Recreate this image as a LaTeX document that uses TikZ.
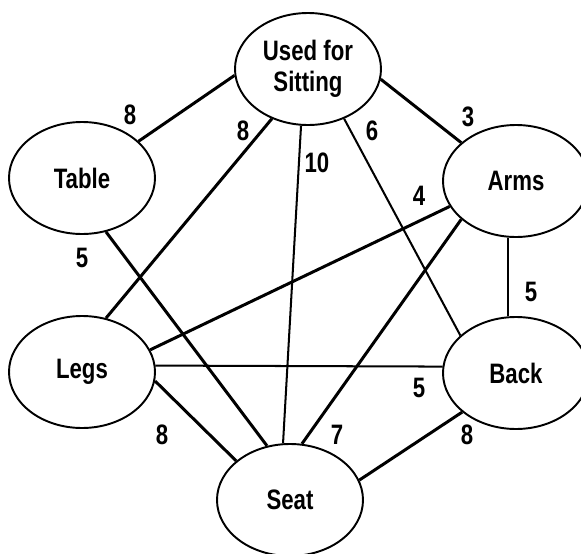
\documentclass[tikz,border=0pt]{standalone}
\usepackage{fontspec}
\setmainfont[FakeStretch=0.79]{Liberation Sans}
\usetikzlibrary{shapes.geometric}

\tikzset{
	concept/.style={ellipse, draw, line width=1.1pt, inner sep=0pt,
		minimum width=2.92cm, minimum height=2.24cm, align=center,
		font=\fontsize{16}{17.6}\selectfont\bfseries},
	link/.style={line width=1.7pt},
	thinlink/.style={line width=1.15pt},
	weight/.style={font=\fontsize{16}{17.6}\selectfont\bfseries}
}

\begin{document}
\begin{tikzpicture}
\useasboundingbox (0,0) rectangle (11.62,-11.08);

\node [concept] (sit)  at (6.16,-1.38)  {Used for\\Sitting};
\node [concept] (tab)  at (1.64,-3.56)  {Table};
\node [concept] (arm)  at (10.32,-3.62) {Arms};
\node [concept] (leg)  at (1.64,-7.44)  {Legs};
\node [concept] (back) at (10.32,-7.46) {Back};
\node [concept] (seat) at (5.80,-10.00) {Seat};

\foreach \a/\b in {sit.185/tab.33, sit.352/arm.145, sit.234/leg.66,
	tab.294/seat.113, arm.201/leg.18, arm.215/seat.78,
	leg.353/seat.144, back.216/seat.16}
	\draw [link] (\a) -- (\b);

\foreach \a/\b in {sit.263/seat.97, sit.306/back.146,
	arm.262/back.98, leg.5/back.175}
	\draw [thinlink] (\a) -- (\b);

\foreach \x/\y/\w [count=\i] in {2.60/-2.30/8, 4.86/-2.62/8, 6.34/-3.26/10,
	7.44/-2.62/6, 9.36/-2.34/3, 8.38/-3.92/4, 1.64/-5.16/5, 10.62/-5.84/5,
	8.38/-7.76/5, 3.24/-8.70/8, 6.74/-8.70/7, 9.34/-8.70/8}
	\node [weight] (w\i) at (\x,\y) {\w};
\end{tikzpicture}
\end{document}
